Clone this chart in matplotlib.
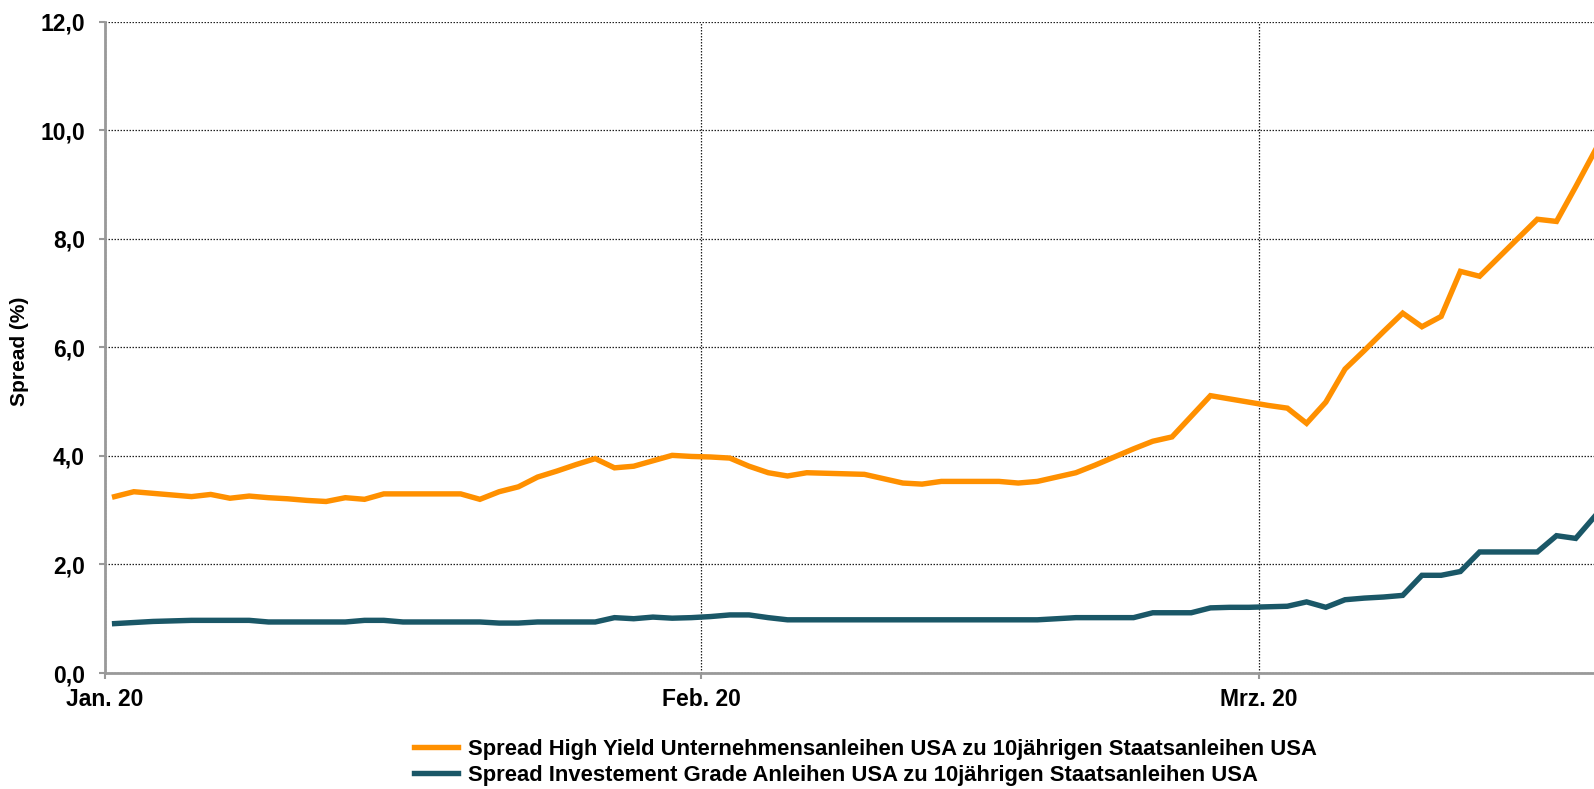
import matplotlib
matplotlib.use("Agg")
import matplotlib.pyplot as plt
import matplotlib.dates as mdates
import numpy as np
import pandas as pd

plt.rcParams['font.family'] = ['Liberation Sans', 'DejaVu Sans']
plt.rcParams['font.weight'] = 'bold'

# daily values, 1 Jan 2020 .. 18 Mar 2020
dates = pd.date_range("2020-01-01", "2020-03-18", freq="D")

high_yield = [
    3.25, 3.34, 3.31, 3.28, 3.25, 3.29, 3.22, 3.26, 3.23, 3.21, 3.18, 3.16,   # Jan 1-12
    3.23, 3.20, 3.30, 3.30, 3.30, 3.30, 3.30, 3.20, 3.34, 3.43, 3.61, 3.72,   # Jan 13-24
    3.84, 3.95, 3.78, 3.81, 3.91, 4.01, 3.99,                                 # Jan 25-31
    3.98, 3.96, 3.81, 3.69, 3.63, 3.69, 3.68, 3.67, 3.66, 3.58, 3.50, 3.48,   # Feb 1-12
    3.53, 3.53, 3.53, 3.53, 3.50, 3.53, 3.61, 3.69, 3.83, 3.98, 4.13, 4.27,   # Feb 13-24
    4.35, 4.73, 5.11, 5.05, 4.99,                                             # Feb 25-29
    4.93, 4.88, 4.60, 4.99, 5.60, 5.94, 6.29, 6.63, 6.38, 6.57, 7.40, 7.31,   # Mar 1-12
    7.66, 8.01, 8.36, 8.32, 8.96, 9.62,                                       # Mar 13-18
]

investment_grade = [
    0.91, 0.93, 0.95, 0.96, 0.97, 0.97, 0.97, 0.97, 0.94, 0.94, 0.94, 0.94,   # Jan 1-12
    0.94, 0.97, 0.97, 0.94, 0.94, 0.94, 0.94, 0.94, 0.92, 0.92, 0.94, 0.94,   # Jan 13-24
    0.94, 0.94, 1.02, 1.00, 1.03, 1.01, 1.02,                                 # Jan 25-31
    1.04, 1.07, 1.07, 1.02, 0.98, 0.98, 0.98, 0.98, 0.98, 0.98, 0.98, 0.98,   # Feb 1-12
    0.98, 0.98, 0.98, 0.98, 0.98, 0.98, 1.00, 1.02, 1.02, 1.02, 1.02, 1.11,   # Feb 13-24
    1.11, 1.11, 1.20, 1.21, 1.21,                                             # Feb 25-29
    1.22, 1.23, 1.31, 1.21, 1.35, 1.38, 1.40, 1.43, 1.80, 1.80, 1.87, 2.23,   # Mar 1-12
    2.23, 2.23, 2.23, 2.53, 2.48, 2.89,                                       # Mar 13-18
]

tick_dates = ["2020-01-01", "2020-02-01", "2020-03-01"]
tick_labels = ["Jan. 20", "Feb. 20", "Mrz. 20"]
y_ticks = [0, 2, 4, 6, 8, 10, 12]

label_hy = "Spread High Yield Unternehmensanleihen USA zu 10jährigen Staatsanleihen USA"
label_ig = "Spread Investement Grade Anleihen USA zu 10jährigen Staatsanleihen USA"

fig = plt.figure(figsize=(15.94, 7.89), dpi=100)
ax = fig.add_axes([105 / 1594, 1 - 673 / 789, 1 - 105 / 1594, (673 - 21.7) / 789])

x = mdates.date2num(dates) + 0.5
l1, = ax.plot(x, high_yield, color="#FF9000", lw=3.9, solid_joinstyle="miter", label=label_hy, zorder=3)
l2, = ax.plot(x, investment_grade, color="#1A5767", lw=3.9, solid_joinstyle="miter", label=label_ig, zorder=3)

x0 = mdates.date2num(pd.Timestamp("2020-01-01"))
ax.set_xlim(x0, x0 + 77.45)
ax.set_ylim(0, 12)

ax.set_xticks(mdates.date2num(pd.to_datetime(tick_dates)))
ax.set_xticklabels(tick_labels, fontsize=16.5, fontweight="bold")
ax.set_yticks(y_ticks)
ax.set_yticklabels([f"{v:.1f}".replace(".", ",") for v in y_ticks], fontsize=16.5, fontweight="bold")

ax.grid(True, which="major", axis="both", color="#222222", linestyle=(0, (1.2, 1.2)), linewidth=0.9, zorder=1)
for s in ["top", "right"]:
    ax.spines[s].set_visible(False)
for s in ["left", "bottom"]:
    ax.spines[s].set_color("#999999")
    ax.spines[s].set_linewidth(2)
ax.tick_params(axis="both", colors="#999999", length=4, width=1.5, labelcolor="black")
ax.tick_params(axis="y", pad=10.5)
ax.tick_params(axis="x", pad=7)

ax.set_ylabel("Spread (%)", fontsize=15, fontweight="bold")
ax.yaxis.set_label_coords((29 - 105) / 1489, 0.494)

fig.legend(handles=[l1, l2], loc="upper left", bbox_to_anchor=(414 / 1594, 1 - 739 / 789),
           frameon=False, handlelength=2.0, handletextpad=0.45,
           labelspacing=0.22, borderaxespad=0, borderpad=0,
           prop={"weight": "bold", "size": 15.8})

fig.savefig("out.png", dpi=100)
